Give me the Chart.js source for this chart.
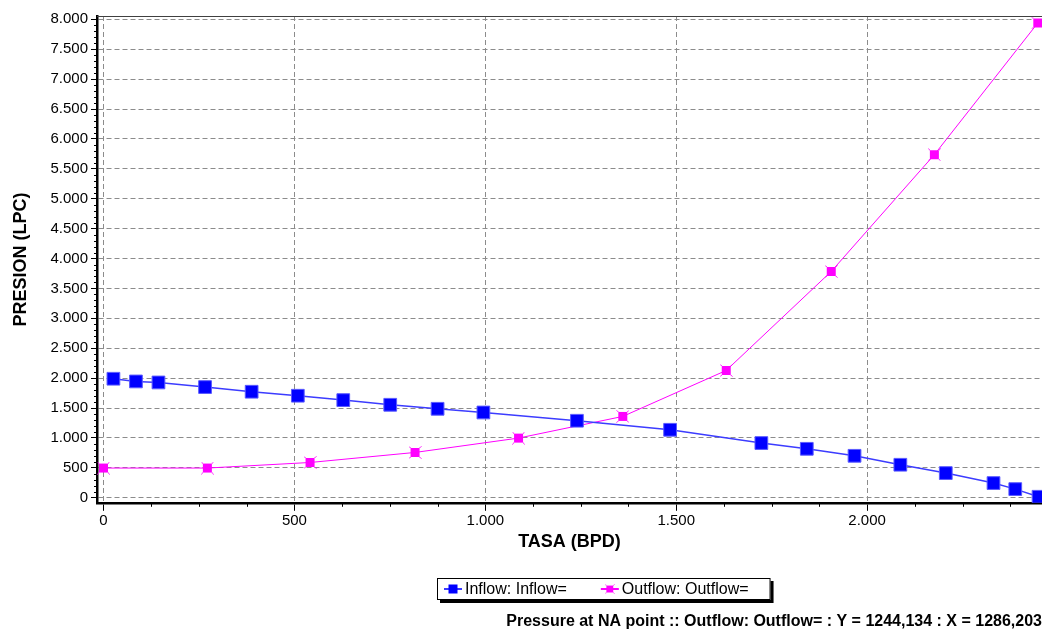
<!DOCTYPE html>
<html>
<head>
<meta charset="utf-8">
<script src="https://cdn.jsdelivr.net/npm/chart.js@4.4.1/dist/chart.umd.min.js"></script>
<style>
  html, body { margin: 0; padding: 0; background: #fff; }
</style>
</head>
<body>
<canvas id="myChart" width="1042" height="635"></canvas>
<script>
// values
const inflowX = [26, 85, 144, 266, 388, 509, 628, 751, 875, 995, 1240, 1484, 1723, 1842, 1967, 2087, 2206, 2331, 2388, 2449];
const inflowY = [1990, 1945, 1928, 1851, 1773, 1706, 1633, 1555, 1488, 1426, 1288, 1137, 915, 819, 702, 552, 413, 246, 145, 17];
const outflowX = [0, 272, 541, 816, 1087, 1360, 1631, 1906, 2176, 2447];
const outflowY = [497, 497, 590, 758, 998, 1360, 2129, 3784, 5736, 7938];
const xTicks = [0, 500, 1000, 1500, 2000];
const yTicks = [0, 500, 1000, 1500, 2000, 2500, 3000, 3500, 4000, 4500, 5000, 5500, 6000, 6500, 7000, 7500, 8000];
const footerText = 'Pressure at NA point :: Outflow: Outflow= : Y = 1244,134 : X = 1286,203';

const FONT = '"Liberation Sans", Arial, sans-serif';
Chart.defaults.font.family = FONT;
Chart.defaults.color = '#000';

const fmt = v => String(v).replace(/\B(?=(\d{3})+(?!\d))/g, '.');

// outflow marker: square with little corner spikes
function starSquare(size) {
  const c = document.createElement('canvas');
  c.width = c.height = size;
  const g = c.getContext('2d');
  g.fillStyle = '#ff00ff';
  g.strokeStyle = '#ff00ff';
  g.lineWidth = 1;
  g.beginPath();
  g.moveTo(0.5, 0.5); g.lineTo(size - 0.5, size - 0.5);
  g.moveTo(size - 0.5, 0.5); g.lineTo(0.5, size - 0.5);
  g.stroke();
  g.fillRect(2, 2, size - 4, size - 4);
  return c;
}
const outMarker = starSquare(13);

const frameAndTicks = {
  id: 'frameAndTicks',
  afterDraw(chart) {
    const {ctx, chartArea: a, scales: {x, y}} = chart;
    ctx.save();
    // thin top frame line
    ctx.strokeStyle = '#404040';
    ctx.lineWidth = 1;
    ctx.beginPath();
    ctx.moveTo(a.left, a.top + 0.5);
    ctx.lineTo(a.right, a.top + 0.5);
    ctx.stroke();
    // minor ticks
    ctx.strokeStyle = '#000';
    ctx.beginPath();
    for (let v = 125; v <= x.max; v += 125) {
      if (v % 500 === 0) continue;
      const px = Math.round(x.getPixelForValue(v)) + 0.5;
      ctx.moveTo(px, a.bottom);
      ctx.lineTo(px, a.bottom + 4);
    }
    for (let v = 100; v <= y.max; v += 100) {
      if (v % 500 === 0) continue;
      const py = Math.round(y.getPixelForValue(v)) + 0.5;
      ctx.moveTo(a.left - 3, py);
      ctx.lineTo(a.left, py);
    }
    ctx.stroke();
    ctx.restore();
  }
};

// boxed legend with drop shadow, like the original
const boxLegend = {
  id: 'boxLegend',
  afterDraw(chart) {
    const ctx = chart.ctx;
    const ds = chart.data.datasets;
    ctx.save();
    ctx.font = '16px ' + FONT;
    const bx = 437, by = 578, bh = 22;
    let x = bx + 7;
    const items = ds.map(d => {
      const it = {d, icon: x, text: x + 21, w: ctx.measureText(d.label).width};
      x = it.text + it.w + 34;
      return it;
    });
    const last = items[items.length - 1];
    const bw = last.text + last.w + 22 - bx;
    ctx.fillStyle = '#000';
    ctx.fillRect(bx + 3, by + 3, bw, bh);
    ctx.fillStyle = '#fff';
    ctx.fillRect(bx, by, bw, bh);
    ctx.strokeStyle = '#000';
    ctx.lineWidth = 1;
    ctx.strokeRect(bx + 0.5, by + 0.5, bw - 1, bh - 1);
    const cy = by + bh / 2;
    items.forEach(it => {
      ctx.strokeStyle = it.d.borderColor;
      ctx.lineWidth = 2;
      ctx.beginPath();
      ctx.moveTo(it.icon, cy);
      ctx.lineTo(it.icon + 18, cy);
      ctx.stroke();
      const cx = it.icon + 9;
      if (it.d.pointStyle === 'rect') {
        ctx.fillStyle = it.d.pointBackgroundColor;
        ctx.fillRect(cx - 4.5, cy - 4.5, 9, 9);
      } else {
        ctx.drawImage(it.d.pointStyle, cx - 5, cy - 5, 10, 10);
      }
      ctx.fillStyle = '#000';
      ctx.textBaseline = 'middle';
      ctx.fillText(it.d.label, it.text, cy + 1);
    });
    ctx.restore();
  }
};

const ctx = document.getElementById('myChart').getContext('2d');
const myChart = new Chart(ctx, {
  type: 'line',
  data: {
    datasets: [{
      label: 'Inflow: Inflow=',
      data: inflowX.map((v, i) => ({x: v, y: inflowY[i]})),
      borderColor: '#3c3cff',
      borderWidth: 1.5,
      pointStyle: 'rect',
      pointRadius: 9,
      pointBackgroundColor: '#0000ff',
      pointBorderColor: '#5a5aff',
      pointBorderWidth: 1,
      tension: 0,
      fill: false,
    }, {
      label: 'Outflow: Outflow=',
      data: outflowX.map((v, i) => ({x: v, y: outflowY[i]})),
      borderColor: '#ff00ff',
      borderWidth: 1,
      pointStyle: outMarker,
      pointBackgroundColor: '#ff00ff',
      tension: 0,
      fill: false,
    }]
  },
  options: {
    responsive: false,
    animation: false,
    events: [],
    layout: { autoPadding: false, padding: { top: 16, right: 0, bottom: 0, left: 0 } },
    plugins: {
      legend: { display: false },
      tooltip: { enabled: false },
      title: {
        display: true,
        position: 'bottom',
        align: 'end',
        text: footerText,
        font: { size: 16, weight: 'bold' },
        padding: { top: 0, bottom: 4 },
      },
    },
    scales: {
      x: {
        type: 'linear',
        min: -17,
        max: 2458,
        afterBuildTicks: s => { s.ticks = xTicks.map(v => ({value: v})); },
        afterFit: s => { s.height = 109; s.paddingLeft = 0; s.paddingRight = 0; },
        ticks: { font: { size: 15 }, padding: 1, maxRotation: 0, callback: v => fmt(v) },
        grid: { color: '#8c8c8c', tickColor: '#000', tickLength: 8, tickBorderDash: [] },
        border: { color: '#000', width: 2.5, dash: [5, 3] },
        title: { display: true, text: 'TASA (BPD)', font: { size: 18, weight: 'bold' }, padding: { top: 0, bottom: 59 } },
      },
      y: {
        type: 'linear',
        min: -84,
        max: 8055,
        afterBuildTicks: s => { s.ticks = yTicks.map(v => ({value: v})); },
        afterFit: s => { s.width = 97; s.paddingTop = 0; s.paddingBottom = 0; },
        ticks: { font: { size: 15 }, padding: 3, callback: v => fmt(v) },
        grid: { color: '#8c8c8c', tickColor: '#000', tickLength: 6, tickBorderDash: [] },
        border: { color: '#000', width: 2.5, dash: [5, 3] },
        title: { display: true, text: 'PRESION (LPC)', font: { size: 18, weight: 'bold' }, padding: { top: 10, bottom: 0 } },
      }
    }
  },
  plugins: [frameAndTicks, boxLegend]
});
</script>
</body>
</html>
